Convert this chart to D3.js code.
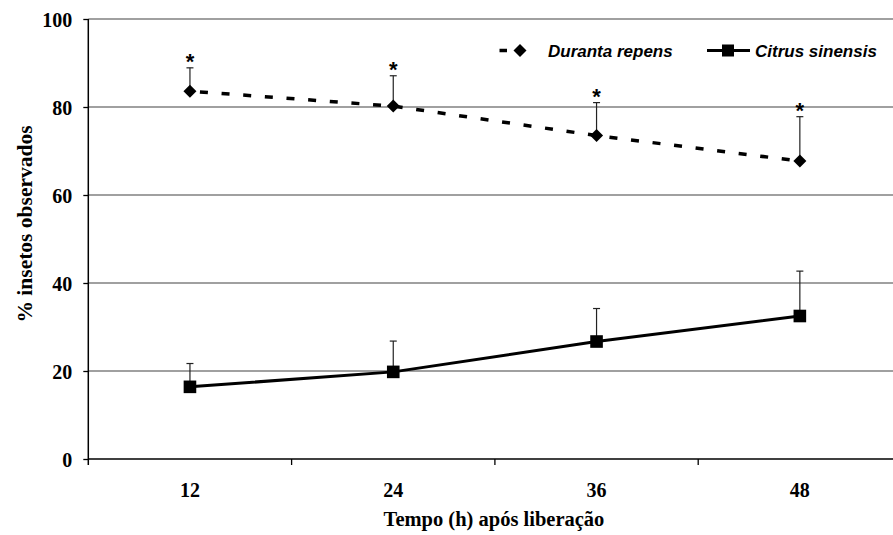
<!DOCTYPE html>
<html>
<head>
<meta charset="utf-8">
<script src="https://cdn.jsdelivr.net/npm/d3@7"></script>
<style>
  html, body { margin: 0; padding: 0; background: #fff; }
  svg { display: block; }
</style>
</head>
<body>
<svg id="chart" width="893" height="535"></svg>
<script>
// ---- data ----
const categories = ["12", "24", "36", "48"];
const durantaValues = [83.6, 80.2, 73.5, 67.7];
const durantaErrors = [5.3, 6.9, 7.5, 10.1];
const citrusValues = [16.4, 19.8, 26.7, 32.5];
const citrusErrors = [5.3, 7.0, 7.5, 10.2];
const yTicks = [0, 20, 40, 60, 80, 100];
const seriesNames = ["Duranta repens", "Citrus sinensis"];
const signif = ["*", "*", "*", "*"];
const xTitle = "Tempo (h) após liberação";
const yTitle = "% insetos observados";

(function () {
// ---- layout ----
const svg = d3.select("#chart");
const W = 893;
const pLeft = 88.3, pRight = 901.5, pTop = 19, pBottom = 459;
const serif = "'Liberation Serif', 'Times New Roman', Times, serif";
const sans = "'Liberation Sans', Arial, sans-serif";

const x = d3.scaleBand().domain(categories).range([pLeft, pRight]).padding(0);
const y = d3.scaleLinear().domain([0, 100]).range([pBottom, pTop]);
const cx = d => x(d) + x.bandwidth() / 2;

// gridlines
svg.append("g").selectAll("line").data(yTicks.filter(t => t > 0)).join("line")
  .attr("x1", pLeft).attr("x2", W)
  .attr("y1", d => y(d)).attr("y2", d => y(d))
  .attr("stroke", "#808080").attr("stroke-width", 1.5);

// y axis
const yAxis = svg.append("g").attr("transform", `translate(${pLeft},0)`)
  .call(d3.axisLeft(y).tickValues(yTicks).tickSize(5).tickPadding(11).tickSizeOuter(0));
yAxis.select(".domain").remove();
yAxis.selectAll(".tick line").attr("stroke", "#000").attr("stroke-width", 1.3);
yAxis.selectAll(".tick text")
  .attr("font-family", serif).attr("font-weight", "bold").attr("font-size", 20)
  .attr("fill", "#000").attr("dy", "0.35em");
svg.append("line").attr("x1", pLeft).attr("x2", pLeft).attr("y1", pTop).attr("y2", pBottom + 6)
  .attr("stroke", "#000").attr("stroke-width", 1.5);

// x axis
svg.append("line").attr("x1", pLeft).attr("x2", W).attr("y1", pBottom).attr("y2", pBottom)
  .attr("stroke", "#000").attr("stroke-width", 1.5);
const boundaries = categories.map(c => x(c)).concat([x.range()[1]]);
svg.append("g").selectAll("line").data(boundaries.slice(1)).join("line")
  .attr("x1", d => d).attr("x2", d => d).attr("y1", pBottom).attr("y2", pBottom + 6)
  .attr("stroke", "#000").attr("stroke-width", 1.3);
svg.append("g").selectAll("text").data(categories).join("text")
  .attr("x", d => cx(d)).attr("y", 496.5)
  .attr("text-anchor", "middle")
  .attr("font-family", serif).attr("font-weight", "bold").attr("font-size", 20)
  .text(d => d);

// titles
svg.append("text").attr("x", 494).attr("y", 526).attr("text-anchor", "middle")
  .attr("font-family", serif).attr("font-weight", "bold").attr("font-size", 20.5)
  .text(xTitle);
svg.append("text").attr("transform", "translate(32,224) rotate(-90)").attr("text-anchor", "middle")
  .attr("font-family", serif).attr("font-weight", "bold").attr("font-size", 21.5)
  .text(yTitle);

// error bars
function errorBars(vals, errs) {
  const g = svg.append("g").attr("stroke", "#222").attr("stroke-width", 1.2);
  categories.forEach((c, i) => {
    const yt = y(vals[i] + errs[i]);
    g.append("line").attr("x1", cx(c)).attr("x2", cx(c)).attr("y1", y(vals[i])).attr("y2", yt);
    g.append("line").attr("x1", cx(c) - 3.5).attr("x2", cx(c) + 3.5).attr("y1", yt).attr("y2", yt);
  });
}
errorBars(durantaValues, durantaErrors);
errorBars(citrusValues, citrusErrors);

// lines
const line = d3.line().x((d, i) => cx(categories[i])).y(d => y(d));
svg.append("path").datum(durantaValues).attr("d", line)
  .attr("fill", "none").attr("stroke", "#000").attr("stroke-width", 3.5)
  .attr("stroke-dasharray", "8,13.7").attr("stroke-dashoffset", -10);
svg.append("path").datum(citrusValues).attr("d", line)
  .attr("fill", "none").attr("stroke", "#000").attr("stroke-width", 3);

// markers
const diamond = (px, py) => `M${px},${py - 6.5}L${px + 6.5},${py}L${px},${py + 6.5}L${px - 6.5},${py}Z`;
svg.append("g").selectAll("path").data(durantaValues).join("path")
  .attr("d", (d, i) => diamond(cx(categories[i]), y(d))).attr("fill", "#000");
svg.append("g").selectAll("rect").data(citrusValues).join("rect")
  .attr("x", (d, i) => cx(categories[i]) - 6.3).attr("y", d => y(d) - 6.3)
  .attr("width", 12.6).attr("height", 12.6).attr("fill", "#000");

// significance asterisks
svg.append("g").selectAll("text").data(signif).join("text")
  .attr("x", (d, i) => cx(categories[i])).attr("y", (d, i) => y(durantaValues[i] + durantaErrors[i]) + 1.5)
  .attr("text-anchor", "middle")
  .attr("font-family", sans).attr("font-weight", "bold").attr("font-size", 22)
  .text(d => d);

// legend
const lg = svg.append("g");
lg.append("line").attr("x1", 499.5).attr("x2", 520).attr("y1", 50.5).attr("y2", 50.5)
  .attr("stroke", "#000").attr("stroke-width", 3.5).attr("stroke-dasharray", "7.5,14.2");
lg.append("path").attr("d", diamond(520, 50.5)).attr("fill", "#000");
lg.append("text").attr("x", 548).attr("y", 57)
  .attr("font-family", sans).attr("font-weight", "bold").attr("font-style", "italic").attr("font-size", 17)
  .text(seriesNames[0]);
lg.append("line").attr("x1", 707).attr("x2", 750).attr("y1", 50.5).attr("y2", 50.5)
  .attr("stroke", "#000").attr("stroke-width", 3);
lg.append("rect").attr("x", 728 - 6).attr("y", 50.5 - 6).attr("width", 12).attr("height", 12).attr("fill", "#000");
lg.append("text").attr("x", 755).attr("y", 57)
  .attr("font-family", sans).attr("font-weight", "bold").attr("font-style", "italic").attr("font-size", 17)
  .text(seriesNames[1]);
})();
</script>
</body>
</html>
